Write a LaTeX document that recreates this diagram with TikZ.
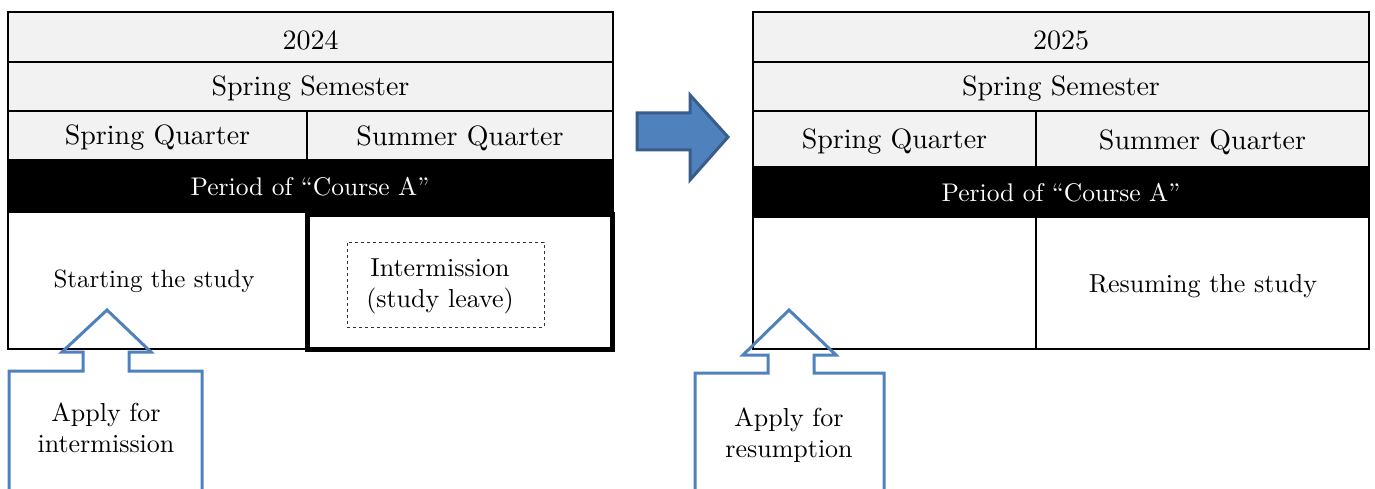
\documentclass[tikz,border=0pt]{standalone}
\usepackage{graphicx}
\definecolor{hdr}{HTML}{F2F2F2}
\definecolor{callblue}{HTML}{4F81BD}
\definecolor{arrowedge}{HTML}{385D8A}
\newcommand\hd[1]{\scalebox{2.8}{#1}}
\newcommand\bd[2]{\scalebox{#1}{\begin{tabular}{@{}c@{}}#2\end{tabular}}}
\tikzset{
  cell/.style={draw=black, line width=2pt, fill=hdr, inner sep=0pt, font=\fontsize{10}{12}\selectfont},
  bar/.style={fill=black, draw=none, text=white, inner sep=0pt, font=\fontsize{10}{12}\selectfont},
  body/.style={draw=black, line width=2pt, fill=white, inner sep=0pt, align=center, font=\fontsize{10}{12}\selectfont},
  bold/.style={draw=black, line width=5pt, inner sep=0pt},
  leave/.style={draw=black!80, dashed, line width=1pt, inner sep=0pt, font=\fontsize{10}{12}\selectfont},
  callout/.style={draw=callblue, line width=3pt, line join=miter},
  calltext/.style={inner sep=0pt, font=\fontsize{10}{12}\selectfont},
  bigarrow/.style={fill=callblue, draw=arrowedge, line width=3pt, line join=miter}
}
\begin{document}
\begin{tikzpicture}[x=1pt,y=-1pt]
\useasboundingbox (0,0) rectangle (1375,489);
% ---- left table (2024)
\node[cell, minimum width=605, minimum height=50] (ly) at (310.5,37) {};
\node[calltext] (lyt) at (310.5,40) {\hd{2024}};
\node[cell, minimum width=605, minimum height=49] (ls) at (310.5,86.5) {};
\node[calltext] (lst) at (310.5,89) {\hd{Spring Semester}};
\node[cell, minimum width=299, minimum height=49] (lq1) at (157.5,135.5) {};
\node[calltext] (lq1t) at (157.5,138) {\hd{Spring Quarter}};
\node[cell, minimum width=306, minimum height=49] (lq2) at (460,135.5) {};
\node[calltext] (lq2t) at (460,138) {\hd{Summer Quarter}};
\node[bar, minimum width=607, minimum height=52] (lbar) at (310.5,186) {};
\node[calltext, text=white] (lbart) at (310,189) {\bd{2.55}{Period of ``Course A''}};
\node[body, minimum width=299, minimum height=137] (lb1) at (157.5,280.5) {};
\node[calltext] (lstart) at (154,281) {\bd{2.5}{Starting the study}};
\node[bold, minimum width=305, minimum height=135] (lb2) at (460,282) {};
\node[leave, minimum width=197, minimum height=85] (lleave) at (445.5,284.5) {};
\node[calltext] (lleavet) at (440,286) {\bd{2.6}{Intermission\\(study leave)}};
% ---- right table (2025)
\node[cell, minimum width=616, minimum height=50] (ry) at (1061,37) {};
\node[calltext] (ryt) at (1061,40) {\hd{2025}};
\node[cell, minimum width=616, minimum height=49] (rs) at (1061,86.5) {};
\node[calltext] (rst) at (1061,89) {\hd{Spring Semester}};
\node[cell, minimum width=283, minimum height=56] (rq1) at (894.5,139) {};
\node[calltext] (rq1t) at (894.5,142) {\hd{Spring Quarter}};
\node[cell, minimum width=333, minimum height=56] (rq2) at (1202.5,139) {};
\node[calltext] (rq2t) at (1202.5,142) {\hd{Summer Quarter}};
\node[bar, minimum width=618, minimum height=50] (rbar) at (1061,192) {};
\node[calltext, text=white] (rbart) at (1061,195) {\bd{2.55}{Period of ``Course A''}};
\node[body, minimum width=283, minimum height=132] (rb1) at (894.5,283) {};
\node[body, minimum width=333, minimum height=132] (rb2) at (1202.5,283) {};
\node[calltext] (rb2t) at (1203,286) {\bd{2.6}{Resuming the study}};
% ---- big arrow
\draw[bigarrow] (637,113) -- (690,113) -- (690,95) -- (728,137) -- (690,180) -- (690,150) -- (637,150) -- cycle;
% ---- callouts
\draw[callout] (9,495) -- (9,371) -- (83,371) -- (83,352) -- (62,352) -- (107,310) -- (151,352) -- (129,352) -- (129,371) -- (202,371) -- (202,495);
\node[calltext] (apply1) at (106,431) {\bd{2.6}{Apply for\\intermission}};
\draw[callout] (695,495) -- (695,373) -- (768,373) -- (768,355) -- (743,355) -- (789,310) -- (836,355) -- (814,355) -- (814,373) -- (884,373) -- (884,495);
\node[calltext] (apply2) at (789,436) {\bd{2.6}{Apply for\\resumption}};
\end{tikzpicture}
\end{document}
